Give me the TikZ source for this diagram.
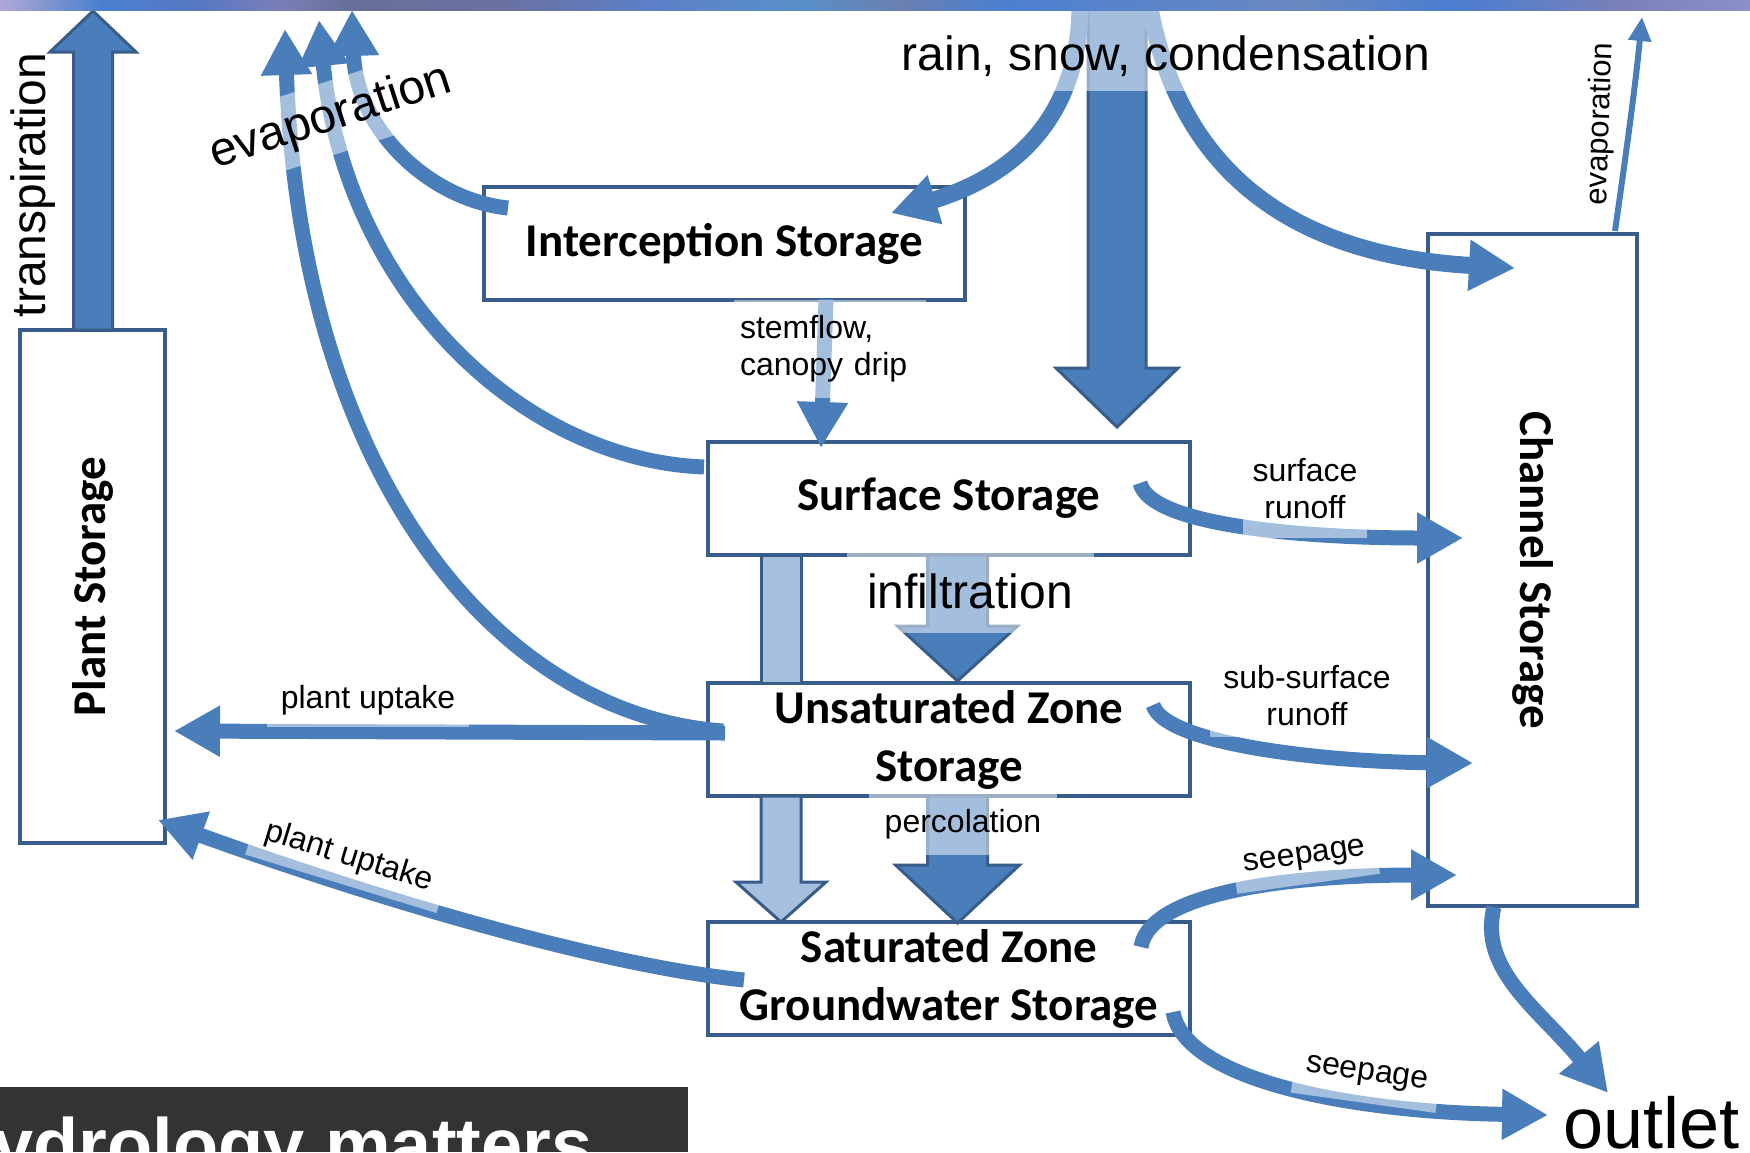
\documentclass[tikz,border=0pt]{standalone}
\usepackage{fontspec}
\setmainfont{Liberation Sans}
\newfontfamily\calibri{Carlito}
\usetikzlibrary{arrows.meta}
\definecolor{ablue}{HTML}{4A7EBB}
\definecolor{bdr}{HTML}{385D8A}
\definecolor{lfill}{HTML}{A7BFDE}
\definecolor{darkbg}{HTML}{333333}
\definecolor{b0}{HTML}{B0A8D8}
\definecolor{b1}{HTML}{8898D0}
\definecolor{b2}{HTML}{4A80D0}
\definecolor{b3}{HTML}{5878C0}
\definecolor{b4}{HTML}{7A7FB8}
\definecolor{b5}{HTML}{687098}
\definecolor{b6}{HTML}{6A70A0}
\definecolor{b7}{HTML}{5C80C8}
\definecolor{b8}{HTML}{5890C8}
\definecolor{b9}{HTML}{6A80B0}
\definecolor{b10}{HTML}{4C80D0}
\definecolor{b11}{HTML}{6A88C0}
\definecolor{b12}{HTML}{4A7ED0}
\definecolor{b13}{HTML}{7A80B8}
\definecolor{b14}{HTML}{8A90C8}
% block arrow: x, ybase, yheadbase, ytip, shaft half, head half, fill
\newcommand{\blockarr}[7]{%
  \filldraw[fill=#7, draw=bdr, line width=1.5pt, line join=miter]
   (#1-#5,#2) -- (#1-#5,#3) -- (#1-#6,#3) -- (#1,#4) -- (#1+#6,#3) -- (#1+#5,#3) -- (#1+#5,#2) -- cycle;}
\newcommand{\bandseg}[4]{\shade[left color=#3, right color=#4] (#1,0) rectangle (#2,10.5);}
\begin{document}
\begin{tikzpicture}[x=0.5pt,y=-0.5pt,
  store/.style={draw=bdr, line width=1.7pt, fill=white, inner sep=0pt, align=center,
    font=\calibri\bfseries\fontsize{23.5}{29}\selectfont},
  flow/.style={draw=ablue, line width=7.5pt, -{Triangle[length=23pt,width=24pt]}},
  rainflow/.style={draw=ablue, line width=8.5pt, -{Triangle[length=23pt,width=24pt]}},
  lbl/.style={fill=white, fill opacity=0.5, text opacity=1, inner sep=0pt, align=center},
  bigtxt/.style={font=\fontsize{24}{28}\selectfont},
  smalltxt/.style={font=\fontsize{16}{18.5}\selectfont}]
\useasboundingbox (0,0) rectangle (1750,1152);
\begin{scope}
\clip (0,0) rectangle (1750,1152);

% storages
\node[store, minimum width=240.5pt, minimum height=56.5pt] (inter) at (724.5,243.5) {Interception Storage};
\node[store, minimum width=241pt, minimum height=56.5pt] (surf) at (949,498.5) {Surface Storage};
\node[store, minimum width=241pt, minimum height=56.5pt] (unsat) at (949,739.5) {Unsaturated Zone\\Storage};
\node[store, minimum width=241pt, minimum height=56.5pt] (sat) at (949,978.5) {Saturated Zone\\Groundwater Storage};
\node[store, rotate=90, minimum width=256.5pt, minimum height=72.5pt] (plant) at (92.5,586.5) {Plant Storage};
\node[store, rotate=-90, minimum width=336pt, minimum height=104.5pt] (chan) at (1532.5,570) {Channel Storage};

% block arrows
\blockarr{93}{330}{52}{11}{19.5}{43}{ablue}
\blockarr{1117}{6}{368}{427}{29}{61}{ablue}
\filldraw[fill=lfill, draw=bdr, line width=1.5pt] (761,555) rectangle (801,683);
\blockarr{957.5}{555}{626}{681}{30}{60}{ablue}
\blockarr{781}{796}{882}{922}{20}{45}{lfill}
\blockarr{957.5}{796}{865}{923}{30}{62}{ablue}

% named end points
\coordinate (evA0) at (508,208);  \coordinate (evA1) at (352,10);
\coordinate (evB0) at (704,467);  \coordinate (evB1) at (319,20);
\coordinate (evC0) at (723,731);  \coordinate (evC1) at (285,29);
\coordinate (rl0) at (1080,8);    \coordinate (rl1) at (891,213);
\coordinate (rr0) at (1150,8);    \coordinate (rr1) at (1515,268);
\coordinate (st0) at (826,299);   \coordinate (st1) at (821,448);
\coordinate (sr0) at (1140,483);  \coordinate (sr1) at (1463,538);
\coordinate (ss0) at (1153,705);  \coordinate (ss1) at (1473,763);
\coordinate (sp10) at (1141,947); \coordinate (sp11) at (1457,875);
\coordinate (sp20) at (1173,1012);\coordinate (outl) at (1548,1115);
\coordinate (co0) at (1494,907);  \coordinate (co1) at (1608,1093);
\coordinate (ce0) at (1615,231);  \coordinate (ce1) at (1642,17);
\coordinate (pu10) at (725,733);  \coordinate (pu11) at (174,731);
\coordinate (pu20) at (744,980);  \coordinate (pu21) at (158,820);

% curved flows
\draw[flow] (evA0) .. controls (430,200) and (356,130) .. (evA1);
\draw[flow] (evB0) .. controls (520,460) and (345,290) .. (evB1);
\draw[flow] (evC0) .. controls (500,715) and (300,480) .. (evC1);
\draw[rainflow] (rl0) .. controls (1078,130) and (1000,180) .. (rl1);
\draw[rainflow] (rr0) .. controls (1180,170) and (1290,255) .. (rr1);
\draw[flow] (st0) -- (st1);
\draw[flow] (sr0) .. controls (1150,525) and (1300,538) .. (sr1);
\draw[flow] (ss0) .. controls (1165,745) and (1330,762) .. (ss1);
\draw[flow] (sp10) .. controls (1150,890) and (1300,875) .. (sp11);
\draw[flow] (sp20) .. controls (1185,1080) and (1350,1112) .. (outl);
\draw[flow] (co0) .. controls (1478,970) and (1540,1010) .. (co1);
\draw[draw=ablue, line width=3pt, -{Triangle[length=12pt,width=11pt]}] (ce0) .. controls (1628,140) and (1636,80) .. (ce1);
\draw[flow] (pu10) -- (pu11);
\draw[flow] (pu20) .. controls (600,965) and (380,900) .. (pu21);

% labels
\node[lbl, bigtxt, minimum width=273.5pt, text height=30.5pt, text depth=10.5pt] (lrain) at (1166,50) {rain, snow, condensation};
\node[lbl, bigtxt, minimum width=123.5pt, minimum height=41.5pt] (linf) at (970,591) {infiltration};
\node[lbl, smalltxt, minimum width=94pt, minimum height=31pt] (lperc) at (963,824) {percolation};
\node[lbl, smalltxt, text width=90pt, inner xsep=3pt, minimum height=49pt, align=left] (lstem) at (830,349) {stemflow,\\canopy drip};
\node[lbl, smalltxt, minimum width=62pt, minimum height=49pt] (lsurf) at (1305,489) {surface\\runoff};
\node[lbl, smalltxt, minimum width=97.5pt, minimum height=41pt] (lsub) at (1307,696) {sub-surface\\runoff};
\node[lbl, smalltxt, minimum width=101pt, minimum height=27pt] (lpu1) at (368,700) {plant uptake};
\node[lbl, smalltxt, rotate=-17, minimum width=100pt, minimum height=28pt] (lpu2) at (349,857) {plant uptake};
\node[lbl, bigtxt, rotate=18, minimum width=145pt, minimum height=36pt] (levap) at (331,118) {evaporation};
\node[lbl, smalltxt, rotate=8, minimum width=72pt, minimum height=26pt] (lseep1) at (1305,858) {seepage};
\node[lbl, smalltxt, rotate=-8, minimum width=73pt, minimum height=28pt] (lseep2) at (1367,1075) {seepage};
\node[inner sep=0pt, font=\fontsize{15.5}{18}\selectfont, rotate=88] (lchev) at (1601,124) {evaporation};
\node[inner sep=0pt, bigtxt, rotate=90] (ltrans) at (33,185) {transpiration};
\node[inner sep=0pt, anchor=base west, font=\fontsize{36}{40}\selectfont] (lout) at (1563,1148) {outlet};

% top band (slide background strip)
\bandseg{0}{40.5}{b0}{b1}
\bandseg{40}{100.5}{b1}{b2}
\bandseg{100}{200.5}{b2}{b3}
\bandseg{200}{280.5}{b3}{b4}
\bandseg{280}{350.5}{b4}{b5}
\bandseg{350}{500.5}{b5}{b6}
\bandseg{500}{650.5}{b6}{b7}
\bandseg{650}{800.5}{b7}{b8}
\bandseg{800}{900.5}{b8}{b9}
\bandseg{900}{1000.5}{b9}{b10}
\bandseg{1000}{1300.5}{b10}{b11}
\bandseg{1300}{1450.5}{b11}{b12}
\bandseg{1450}{1620.5}{b12}{b13}
\bandseg{1620}{1750}{b13}{b14}

% title bar
\fill[darkbg] (0,1087) rectangle (688,1152);
\node[inner sep=0pt, anchor=base east, text=white, font=\bfseries\fontsize{37}{40}\selectfont] (title) at (593,1170) {Hydrology matters};
\end{scope}
\end{tikzpicture}
\end{document}
